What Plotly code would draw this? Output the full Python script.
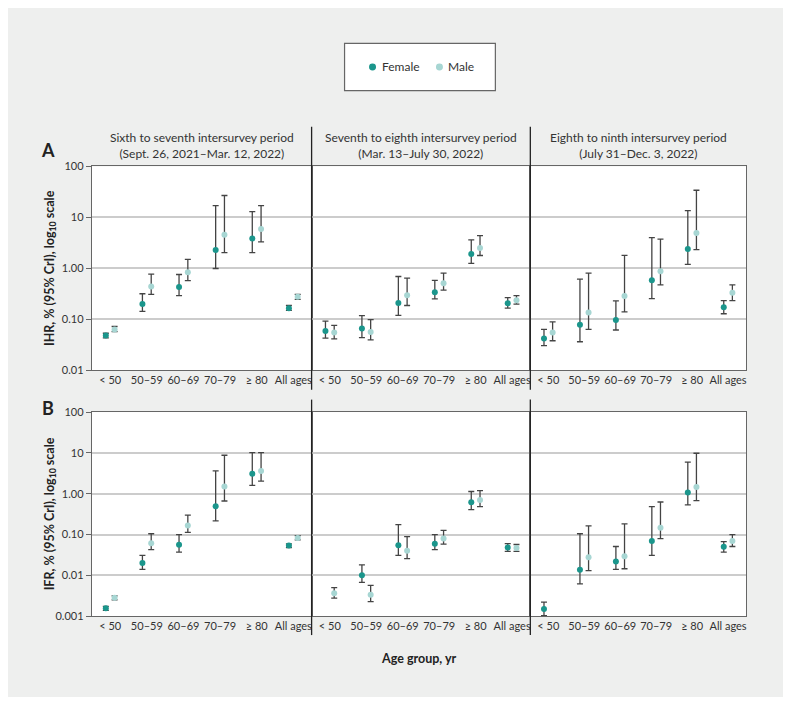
import plotly.graph_objects as go
from plotly.subplots import make_subplots

# figure size (fits inside the 791x705 window with the page's 8px body margin)
W, H = 775, 689
PAGE_MARGIN = 8

categories = ["< 50", "50–59", "60–69", "70–79", "≥ 80", "All ages"]
periods = [
    "Sixth to seventh intersurvey period<br>(Sept. 26, 2021–Mar. 12, 2022)",
    "Seventh to eighth intersurvey period<br>(Mar. 13–July 30, 2022)",
    "Eighth to ninth intersurvey period<br>(July 31–Dec. 3, 2022)",
]

# ---------- Panel A: IHR (%) ----------
ihr_female_p1 = [0.048, 0.20, 0.43, 2.29, 3.83, 0.165]
ihr_female_p1_lo = [0.043, 0.143, 0.29, 0.99, 2.03, 0.149]
ihr_female_p1_hi = [0.053, 0.316, 0.755, 17.0, 13.0, 0.186]
ihr_male_p1 = [0.063, 0.44, 0.84, 4.57, 5.87, 0.277]
ihr_male_p1_lo = [0.057, 0.307, 0.57, 2.03, 3.3, 0.246]
ihr_male_p1_hi = [0.072, 0.77, 1.49, 26.8, 17.0, 0.307]

ihr_female_p2 = [0.0588, 0.066, 0.209, 0.34, 1.91, 0.206]
ihr_female_p2_lo = [0.0425, 0.0437, 0.119, 0.25, 1.25, 0.165]
ihr_female_p2_hi = [0.0916, 0.118, 0.69, 0.58, 3.61, 0.265]
ihr_male_p2 = [0.0546, 0.056, 0.294, 0.507, 2.49, 0.236]
ihr_male_p2_lo = [0.041, 0.0394, 0.186, 0.372, 1.78, 0.197]
ihr_male_p2_hi = [0.0755, 0.0986, 0.643, 0.80, 4.38, 0.29]

ihr_female_p3 = [0.0419, 0.0778, 0.097, 0.58, 2.39, 0.172]
ihr_female_p3_lo = [0.0303, 0.0361, 0.0614, 0.253, 1.19, 0.128]
ihr_female_p3_hi = [0.063, 0.614, 0.229, 4.0, 13.6, 0.232]
ihr_male_p3 = [0.0546, 0.136, 0.285, 0.875, 4.92, 0.33]
ihr_male_p3_lo = [0.0378, 0.063, 0.14, 0.471, 2.32, 0.232]
ihr_male_p3_hi = [0.089, 0.80, 1.80, 3.72, 34.0, 0.471]

# ---------- Panel B: IFR (%) ----------
ifr_female_p1 = [0.00156, 0.0199, 0.0558, 0.492, 3.06, 0.0538]
ifr_female_p1_lo = [0.00139, 0.014, 0.0372, 0.215, 1.60, 0.048]
ifr_female_p1_hi = [0.00174, 0.0309, 0.099, 3.61, 10.1, 0.059]
ifr_male_p1 = [0.00281, 0.0612, 0.166, 1.49, 3.61, 0.0822]
ifr_male_p1_lo = [0.00251, 0.0424, 0.1125, 0.662, 2.04, 0.0736]
ifr_male_p1_hi = [0.00314, 0.1045, 0.299, 8.75, 10.1, 0.0935]

ifr_female_p2 = [None, 0.010, 0.0548, 0.059, 0.614, 0.0482]
ifr_female_p2_lo = [None, 0.00668, 0.0309, 0.0424, 0.409, 0.0387]
ifr_female_p2_hi = [None, 0.0181, 0.175, 0.099, 1.13, 0.060]
ifr_male_p2 = [0.00364, 0.00332, 0.0401, 0.0793, 0.70, 0.0465]
ifr_male_p2_lo = [0.00276, 0.00227, 0.0257, 0.058, 0.483, 0.0387]
ifr_male_p2_hi = [0.00498, 0.00566, 0.0885, 0.1256, 1.19, 0.0569]

ifr_female_p3 = [0.0015, 0.0137, 0.0218, 0.0697, 1.07, 0.050]
ifr_female_p3_lo = [0.00103, 0.0062, 0.014, 0.0309, 0.53, 0.0372]
ifr_female_p3_hi = [0.00221, 0.1045, 0.0509, 0.483, 5.94, 0.0671]
ifr_male_p3 = [None, 0.0277, 0.0292, 0.1455, 1.46, 0.0697]
ifr_male_p3_lo = [None, 0.013, 0.0145, 0.0793, 0.674, 0.0509]
ifr_male_p3_hi = [None, 0.163, 0.182, 0.625, 9.78, 0.099]

panels = [
    (1, 1, (ihr_female_p1, ihr_female_p1_lo, ihr_female_p1_hi), (ihr_male_p1, ihr_male_p1_lo, ihr_male_p1_hi)),
    (1, 2, (ihr_female_p2, ihr_female_p2_lo, ihr_female_p2_hi), (ihr_male_p2, ihr_male_p2_lo, ihr_male_p2_hi)),
    (1, 3, (ihr_female_p3, ihr_female_p3_lo, ihr_female_p3_hi), (ihr_male_p3, ihr_male_p3_lo, ihr_male_p3_hi)),
    (2, 1, (ifr_female_p1, ifr_female_p1_lo, ifr_female_p1_hi), (ifr_male_p1, ifr_male_p1_lo, ifr_male_p1_hi)),
    (2, 2, (ifr_female_p2, ifr_female_p2_lo, ifr_female_p2_hi), (ifr_male_p2, ifr_male_p2_lo, ifr_male_p2_hi)),
    (2, 3, (ifr_female_p3, ifr_female_p3_lo, ifr_female_p3_hi), (ifr_male_p3, ifr_male_p3_lo, ifr_male_p3_hi)),
]

FEMALE = "#1b968c"
MALE = "#a7d6d3"
ERR = "#444444"
BG = "#eeefee"
FONT = "Lato"
OFFSET = 0.12


def px_x(x):
    """screen x (in the 791x705 window) -> paper fraction"""
    return (x - PAGE_MARGIN) / W


def px_y(y):
    """screen y (in the 791x705 window) -> paper fraction"""
    return 1 - (y - PAGE_MARGIN) / H


fig = make_subplots(rows=2, cols=3, horizontal_spacing=0, vertical_spacing=0)


def err(vals, lo, hi):
    up = [None if v is None else h - v for v, h in zip(vals, hi)]
    dn = [None if v is None else v - l for v, l in zip(vals, lo)]
    return dict(type="data", symmetric=False, array=up, arrayminus=dn,
                color=ERR, thickness=1.3, width=3)


for row, col, fem, mal in panels:
    for (vals, lo, hi), off, color, name in [(fem, -OFFSET, FEMALE, "Female"),
                                             (mal, OFFSET, MALE, "Male")]:
        xs = [i + off for i in range(len(categories))]
        fig.add_trace(go.Scatter(
            x=xs, y=vals, mode="markers", name=name, showlegend=False,
            marker=dict(color=color, size=6, line=dict(width=0)),
            error_y=err(vals, lo, hi),
        ), row=row, col=col)

xcols = [(92, 312), (312, 531), (531, 747)]
yrows = {1: (162.3, 370), 2: (412.7, 620.7)}

for row in (1, 2):
    for col in (1, 2, 3):
        x0, x1 = xcols[col - 1]
        yt, yb = yrows[row]
        fig.update_xaxes(
            domain=[px_x(x0), px_x(x1)], range=[-0.5, 5.5],
            tickvals=list(range(len(categories))), ticktext=categories,
            showgrid=False, zeroline=False, ticks="",
            showline=True, mirror=True, linecolor="#666666", linewidth=1.2,
            tickfont=dict(family=FONT, size=11, color="#333333"),
            row=row, col=col)
        if row == 1:
            tv = [0.01, 0.1, 1, 10, 100]
            tt = ["0.01", "0.10", "1.00", "10", "100"]
            rng = [-2, 2]
        else:
            tv = [0.001, 0.01, 0.1, 1, 10, 100]
            tt = ["0.001", "0.01", "0.10", "1.00", "10", "100"]
            rng = [-3, 2]
        fig.update_yaxes(
            domain=[px_y(yb), px_y(yt)], type="log", range=rng,
            tickvals=tv, ticktext=tt, showticklabels=(col == 1),
            ticks="outside" if col == 1 else "", ticklen=5, tickcolor="#666666",
            showgrid=True, gridcolor="#cccccc", gridwidth=1.5, zeroline=False,
            showline=True, mirror=True, linecolor="#666666", linewidth=1.2,
            tickfont=dict(family=FONT, size=11, color="#333333"),
            row=row, col=col)

shapes = []
for xs in (312, 531):
    for (ya, yb) in [(122, 390), (400, 640)]:
        shapes.append(dict(type="line", xref="paper", yref="paper",
                           x0=px_x(xs), x1=px_x(xs), y0=px_y(ya), y1=px_y(yb),
                           line=dict(color="#222222", width=1.3)))
shapes.append(dict(type="rect", xref="paper", yref="paper",
                   x0=px_x(345), x1=px_x(496), y0=px_y(85), y1=px_y(37),
                   fillcolor="white", line=dict(color="#666666", width=1.2)))
for cx, c in [(373, FEMALE), (440, MALE)]:
    shapes.append(dict(type="circle", xref="paper", yref="paper",
                       x0=px_x(cx - 3.5), x1=px_x(cx + 3.5),
                       y0=px_y(61 + 3.5), y1=px_y(61 - 3.5),
                       fillcolor=c, line=dict(width=0)))

annotations = []
for name, x in [("Female", 380), ("Male", 447)]:
    annotations.append(dict(text=name, x=px_x(x), y=px_y(61), xref="paper", yref="paper",
                            xanchor="left", yanchor="middle", showarrow=False,
                            font=dict(family=FONT, size=12, color="#333333")))
for i, p in enumerate(periods):
    x0, x1 = xcols[i]
    annotations.append(dict(text=p, x=px_x((x0 + x1) / 2), y=px_y(141.5), xref="paper", yref="paper",
                            xanchor="center", yanchor="middle", showarrow=False,
                            font=dict(family=FONT, size=12, color="#333333")))
annotations.append(dict(text="<b>A</b>", x=px_x(48), y=px_y(146), xref="paper", yref="paper",
                        xanchor="center", yanchor="middle", showarrow=False,
                        font=dict(family=FONT, size=18, color="#222222")))
annotations.append(dict(text="<b>B</b>", x=px_x(48), y=px_y(409), xref="paper", yref="paper",
                        xanchor="center", yanchor="middle", showarrow=False,
                        font=dict(family=FONT, size=18, color="#222222")))
annotations.append(dict(text="<b>IHR, % (95% CrI), log<sub>10</sub> scale</b>", x=px_x(50), y=px_y(266),
                        xref="paper", yref="paper", xanchor="center", yanchor="middle",
                        showarrow=False, textangle=-90,
                        font=dict(family=FONT, size=12.5, color="#222222")))
annotations.append(dict(text="<b>IFR, % (95% CrI), log<sub>10</sub> scale</b>", x=px_x(50), y=px_y(516),
                        xref="paper", yref="paper", xanchor="center", yanchor="middle",
                        showarrow=False, textangle=-90,
                        font=dict(family=FONT, size=12.5, color="#222222")))
annotations.append(dict(text="<b>Age group, yr</b>", x=px_x(420), y=px_y(664),
                        xref="paper", yref="paper", xanchor="center", yanchor="middle",
                        showarrow=False,
                        font=dict(family=FONT, size=12.5, color="#222222")))

fig.update_layout(
    width=W, height=H, margin=dict(l=0, r=0, t=0, b=0),
    paper_bgcolor=BG, plot_bgcolor="white",
    shapes=shapes, annotations=annotations, showlegend=False,
    font=dict(family=FONT, color="#333333"),
)

fig.write_html("out.html")
